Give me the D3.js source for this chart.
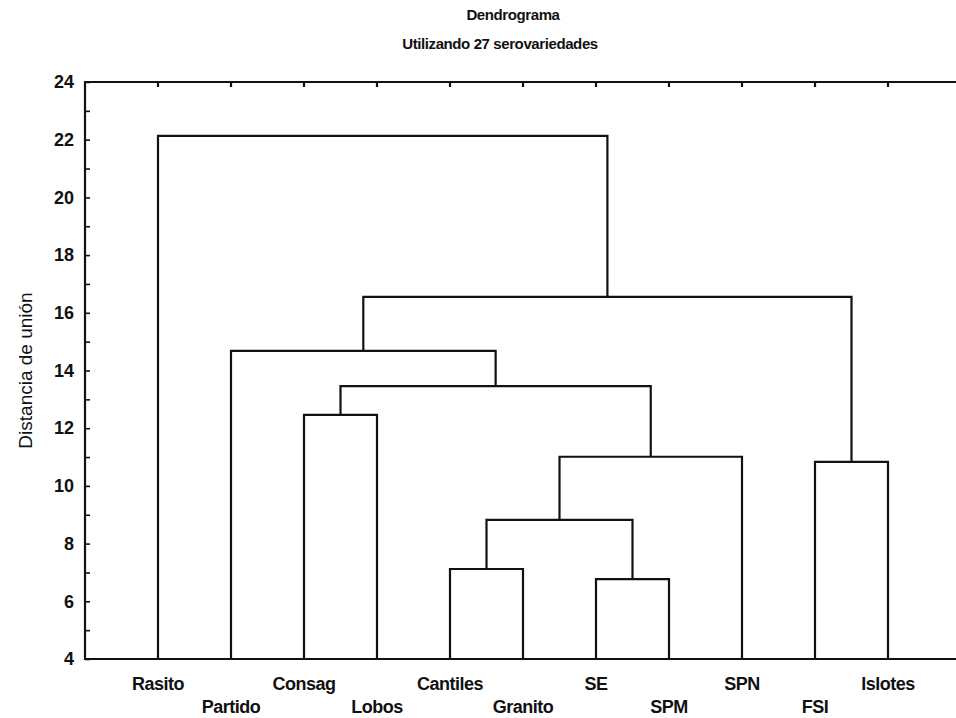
<!DOCTYPE html>
<html lang="en">
<head>
  <meta charset="UTF-8">
  <title>Dendrograma</title>
  <style>
    html, body {
      margin: 0;
      overflow: hidden;
      width: 100%;
      height: 100%;
      background: #fff;
    }
    svg {
      position: absolute;
      top: 0;
      left: 0;
      width: 956px;
      height: 718px;
      background: #fff;
      font-family: "Liberation Sans", Arial, sans-serif;
    }
  </style>
</head>
<body>
  <svg></svg>
</body>
<script src="https://d3js.org/d3.v7.min.js"></script>
<script type="text/javascript">
  // leaves, left to right
  const leaves = ['Rasito', 'Partido', 'Consag', 'Lobos', 'Cantiles', 'Granito',
                  'SE', 'SPM', 'SPN', 'FSI', 'Islotes']

  // merges: [id, left child, right child, linkage distance]
  const merges = [
    ['H', 'Cantiles', 'Granito', 7.12],
    ['I', 'SE', 'SPM', 6.77],
    ['G', 'H', 'I', 8.82],
    ['F', 'G', 'SPN', 11.01],
    ['E', 'Consag', 'Lobos', 12.46],
    ['D', 'E', 'F', 13.46],
    ['B', 'Partido', 'D', 14.68],
    ['C', 'FSI', 'Islotes', 10.83],
    ['A', 'B', 'C', 16.55],
    ['root', 'Rasito', 'A', 22.13]
  ]

  const yTicks = [4, 6, 8, 10, 12, 14, 16, 18, 20, 22, 24]

  const title = 'Dendrograma'
  const subtitle = 'Utilizando 27 serovariedades'
  const yLabel = 'Distancia de unión'

  const svg = d3.select('svg')
  const mLeft = 85, mTop = 82, mRight = 961, mBottom = 659
  const ink = '#111'

  const x = d3.scalePoint().domain(leaves).range([mLeft, mRight]).padding(1)
  const y = d3.scaleLinear().domain([4, 24]).range([mBottom, mTop])

  // node positions: leaves sit on the base, merges at midpoint of children
  const pos = {}
  leaves.forEach(l => { pos[l] = { x: x(l), h: 4 } })
  merges.forEach(([id, a, b, h]) => {
    pos[id] = { x: (pos[a].x + pos[b].x) / 2, h: h }
  })

  const links = svg.append('g')
    .attr('fill', 'none')
    .attr('stroke', ink)
    .attr('stroke-width', 2.2)

  links.selectAll('path')
    .data(merges)
    .enter().append('path')
      .attr('d', ([id, a, b, h]) => {
        const pa = pos[a], pb = pos[b]
        return 'M' + pa.x + ',' + y(pa.h) +
               'V' + y(h) + 'H' + pb.x + 'V' + y(pb.h)
      })

  // frame: left, top and base lines (right side is off the page)
  const frame = svg.append('g')
    .attr('stroke', ink)
    .attr('stroke-width', 2.2)
    .attr('fill', 'none')

  frame.append('path')
    .attr('d', 'M' + mRight + ',' + y(24) + 'H' + mLeft + 'V' + y(4) + 'H' + mRight)

  // top ticks at leaf positions
  frame.selectAll('line.tt')
    .data(leaves)
    .enter().append('line')
      .attr('class', 'tt')
      .attr('x1', d => x(d)).attr('x2', d => x(d))
      .attr('y1', mTop).attr('y2', mTop + 5)

  // left axis
  const yAxis = d3.axisLeft(y)
    .tickValues(d3.range(4, 25, 1))
    .tickSize(-5)
    .tickPadding(11)
    .tickFormat(d => yTicks.includes(d) ? d : '')

  const ga = svg.append('g')
    .attr('transform', 'translate(' + mLeft + ',0)')
    .call(yAxis)
  ga.select('.domain').remove()
  ga.selectAll('.tick line').attr('stroke', ink).attr('stroke-width', 1.6)
  ga.selectAll('.tick text')
    .attr('fill', ink)
    .attr('font-family', '"Liberation Sans", Arial, sans-serif')
    .attr('font-size', 18)
    .attr('font-weight', 'bold')

  // leaf labels, alternating between two rows
  svg.append('g')
    .selectAll('text')
    .data(leaves)
    .enter().append('text')
      .attr('x', d => x(d))
      .attr('y', (d, i) => i % 2 === 0 ? 690 : 713)
      .attr('text-anchor', 'middle')
      .attr('font-size', 18)
      .attr('font-weight', 'bold')
      .attr('letter-spacing', -0.5)
      .attr('fill', ink)
      .text(d => d)

  svg.append('text')
    .attr('x', 513).attr('y', 20)
    .attr('text-anchor', 'middle')
    .attr('font-size', 15)
    .attr('font-weight', 'bold')
    .attr('letter-spacing', -0.4)
    .attr('fill', ink)
    .text(title)

  svg.append('text')
    .attr('x', 500).attr('y', 49)
    .attr('text-anchor', 'middle')
    .attr('font-size', 15)
    .attr('font-weight', 'bold')
    .attr('letter-spacing', -0.4)
    .attr('fill', ink)
    .text(subtitle)

  svg.append('text')
    .attr('transform', 'translate(32,' + (mTop + mBottom) / 2 + ') rotate(-90)')
    .attr('text-anchor', 'middle')
    .attr('font-size', 19)
    .attr('fill', ink)
    .text(yLabel)
</script>
</html>
